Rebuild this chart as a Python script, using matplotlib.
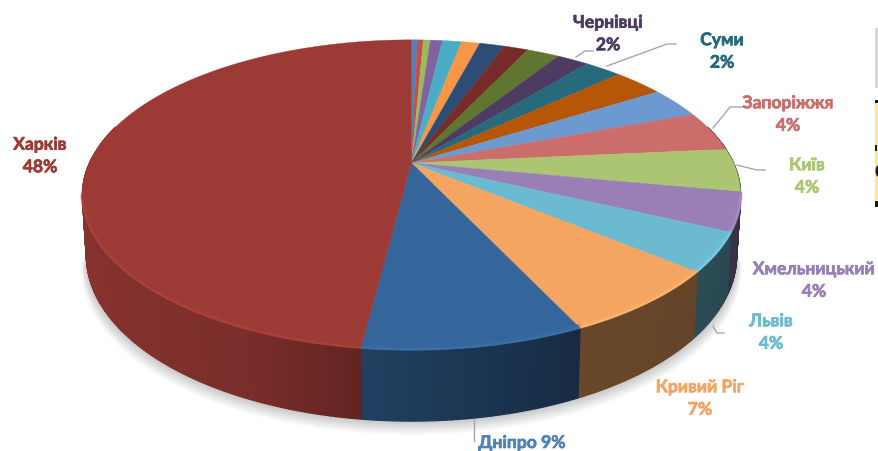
import numpy as np
import matplotlib
matplotlib.use("Agg")
import matplotlib.pyplot as plt
import matplotlib.patheffects as pe
from matplotlib.patches import Polygon, Rectangle, Ellipse
from matplotlib.colors import to_rgb

# clockwise from 12 o'clock
shares = [0.35, 0.36, 0.42, 0.72, 1.15, 1.10, 1.50, 1.45, 1.95, 1.90, 2.20,
          3.00, 3.20, 4.20, 4.50, 4.00, 4.00, 7.00, 9.00, 48.00]
colors = ["#4F81BD", "#C0504D", "#9BBB59", "#8064A2", "#4BACC6", "#F79646",
          "#2C4D75", "#772C2A", "#5F7530", "#4D3B62", "#276A7C", "#B65708",
          "#6C99CF", "#CB6E6B", "#ACC573", "#997FB5", "#6BBAD0", "#F4A562",
          "#35669B", "#9C3A36"]

labels = [("Чернівці\n2%", 608, 34, "#4D3B62"),
          ("Суми\n2%", 722, 51.5, "#276A7C"),
          ("Запоріжжя\n4%", 788, 114.5, "#CB6E6B"),
          ("Київ\n4%", 807, 176.5, "#ACC573"),
          ("Хмельницький\n4%", 814, 280.5, "#997FB5"),
          ("Львів\n4%", 771, 332.5, "#6BBAD0"),
          ("Кривий Ріг\n7%", 700, 398.5, "#F4A562"),
          ("Дніпро 9%", 522, 443, "#4F81BD"),
          ("Харків\n48%", 40, 156, "#9C3A36")]
leaders = [([576, 585, 593], [57, 51, 51]),
           ([607, 667, 676], [66, 44, 44]),
           ([713, 730, 742], [128, 107, 107]),
           ([737, 757, 765], [165, 170, 170]),
           ([713, 717, 724], [326, 333, 333]),
           ([474, 474], [419, 441])]

R, K, B = 322.0, 0.206, 148.5      # perspective circle -> screen
AX, AY = 411.5, 163.0              # apex of the pie
DEPTH = 71


def rim(theta, depth=0.0):
    d = 1 + K * np.cos(theta)
    x = AX + R * np.sin(theta) / d
    y = AY - B * np.cos(theta) / d
    extra = depth * (0.62 + 0.38 * (1 - np.cos(theta)) / 2)
    if depth:
        x = AX + (x - AX) * 0.988
    return x, y + extra


def shade(col, f):
    c = np.array(to_rgb(col))
    return tuple(np.clip(c * f, 0, 1))


def wall_lum(x):
    return np.interp(x, [85, 250, 365, 470, 580, 700, 740],
                     [0.86, 0.78, 0.62, 0.53, 0.43, 0.41, 0.38])


fig = plt.figure(figsize=(8.79, 4.51), dpi=100)
ax = fig.add_axes([0, 0, 1, 1])
ax.set_xlim(0, 879)
ax.set_ylim(451, 0)
ax.axis("off")

# soft ground shadow, front half only
tt = np.linspace(np.radians(100), np.radians(260), 200)
for grow in np.linspace(14, 1, 14):
    x, y = rim(tt, DEPTH)
    ax.fill(AX + (x - AX) * (1 + grow / 900), y + grow, color="#000000",
            alpha=0.014, lw=0, zorder=1)

edges = np.concatenate([[0], np.cumsum(shares)]) / sum(shares) * 2 * np.pi

# side wall
for a, b, c in zip(edges[:-1], edges[1:], colors):
    n = max(2, int((b - a) * 90))
    ts = np.linspace(a, b, n + 1)
    for t0, t1 in zip(ts[:-1], ts[1:]):
        if np.cos((t0 + t1) / 2) > 0.25:
            continue
        seg = np.linspace(t0, t1, 4)
        xt, yt = rim(seg)
        xb, yb = rim(seg, DEPTH)
        lum = wall_lum(xt.mean())
        pts = np.column_stack([np.r_[xt, xb[::-1]], np.r_[yt, yb[::-1]]])
        ax.add_patch(Polygon(pts, closed=True, fc=shade(c, lum),
                             ec=shade(c, lum), lw=1.0, zorder=2))

# top surface
for a, b, c in zip(edges[:-1], edges[1:], colors):
    ts = np.linspace(a, b, max(3, int((b - a) * 60)))
    xs, ys = rim(ts)
    pts = np.column_stack([np.r_[AX, xs], np.r_[AY, ys]])
    ax.add_patch(Polygon(pts, closed=True, fc=c, ec=c, lw=0.3, zorder=3))

# bevel highlight along the front rim only
for a, b, c in zip(edges[:-1], edges[1:], colors):
    ts = np.linspace(a, b, max(3, int((b - a) * 60)))
    ts = ts[np.cos(ts) < -0.2]
    if len(ts) < 2:
        continue
    xs, ys = rim(ts)
    ax.plot(xs, ys - 2.5, color=shade(c, 1.06), lw=3, alpha=0.4, zorder=4,
            solid_capstyle="butt")
    ax.plot(xs, ys - 0.5, color=shade(c, 1.15), lw=1.6, alpha=0.7, zorder=4,
            solid_capstyle="butt")

for lx, ly in leaders:
    ax.plot(lx, ly, color="#A6A6A6", lw=1, zorder=5)

for text, x, y, col in labels:
    t = ax.text(x, y, text, color=col, ha="center", va="center", fontsize=12.6,
                fontweight="bold", family=["Lato", "Open Sans"],
                linespacing=1.5, zorder=6)
    t.set_path_effects([pe.withStroke(linewidth=0.5, foreground=col)])

# photo fragment at the right edge
ax.add_patch(Rectangle((875, 28), 3, 60, fc="#BDBDBD", ec="none", alpha=0.6, zorder=1))
ax.add_patch(Rectangle((875, 100), 4, 107, fc="#FDE992", ec="none", zorder=1))
ax.add_patch(Ellipse((878, 171), 5, 11, fc="#1E1A10", ec="none", zorder=2))
ax.add_patch(Rectangle((875, 145), 2, 6, fc="#1E1A10", ec="none", zorder=2))
ax.add_patch(Rectangle((875, 100), 4, 3, fc="#1E1A10", ec="none", zorder=2))
ax.add_patch(Rectangle((875, 201), 3, 6, fc="#1E1A10", ec="none", zorder=2))

fig.savefig("out.png", dpi=100)
